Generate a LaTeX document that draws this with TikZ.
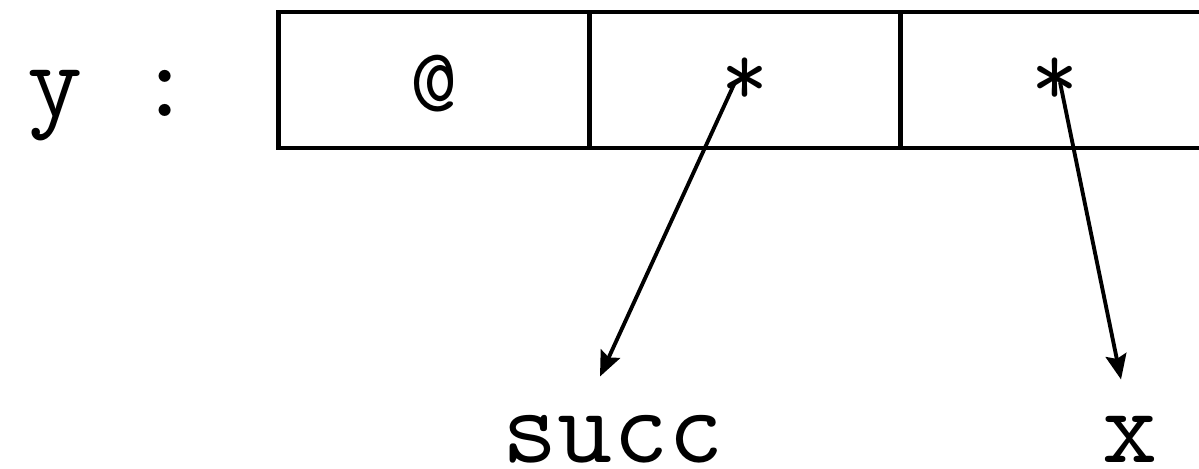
\documentclass[tikz,border=0pt]{standalone}
\usetikzlibrary{arrows.meta,positioning}

\begin{document}
\begin{tikzpicture}[
    x=0.02cm, y=-0.02cm,
    celula/.style={draw, line width=2.4pt, minimum width=6.22cm, minimum height=2.72cm, inner sep=0pt, outer sep=0pt},
    rotulo/.style={font=\fontsize{61}{61}\selectfont\ttfamily, inner sep=0pt, anchor=base},
    conteudo/.style={font=\fontsize{52}{52}\selectfont\ttfamily, inner sep=0pt, anchor=base},
    seta/.style={-{Stealth[length=0.5cm, width=0.42cm, inset=0.08cm]}, line width=2.2pt}
  ]
    \clip (0,0) rectangle (1199,469);
    \node[celula] (c1) at (434,80) {};
    \node[celula, right=0pt of c1] (c2) {};
    \node[celula, right=0pt of c2] (c3) {};

    \node[conteudo] (a1) at (434,112) {@};
    \node[conteudo] (a2) at (745,106) {*};
    \node[conteudo] (a3) at (1055,106) {*};

    \node[rotulo] (y) at (110,117) {y :};
    \node[rotulo] (succ) at (613,462) {succ};
    \node[rotulo] (x) at (1130,462) {x};

    \draw[seta] ([xshift=-0.2cm]a2.center) -- ([xshift=-0.26cm, yshift=0.76cm]succ.north);
    \draw[seta] ([xshift=0.1cm]a3.center) -- ([xshift=-0.18cm, yshift=0.72cm]x.north);
\end{tikzpicture}
\end{document}
